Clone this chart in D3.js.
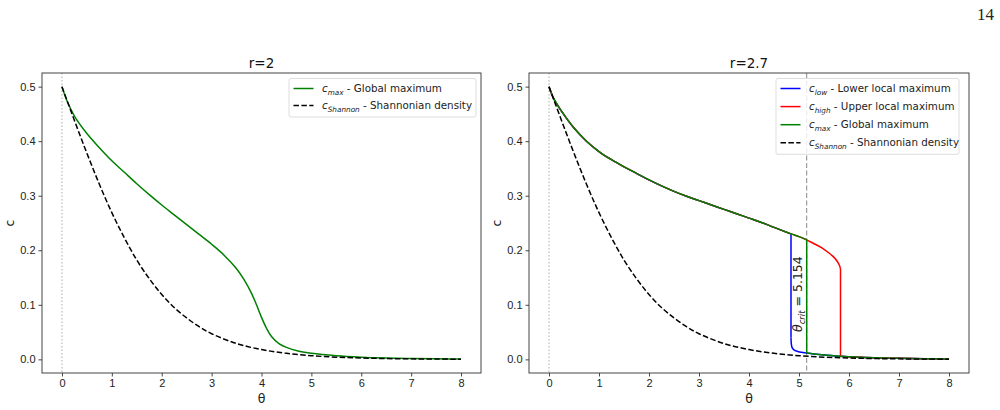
<!DOCTYPE html>
<html>
<head>
<meta charset="utf-8">
<script src="https://cdn.jsdelivr.net/npm/d3@7"></script>
<style>
  body { margin: 0; background: #fff; }
  svg { font-family: "DejaVu Sans", sans-serif; }
  .axis text { font-size: 11px; fill: #222; }
  .axis path, .axis line { stroke: #333; stroke-width: 0.9; }
  .title { font-size: 13.5px; fill: #111; text-anchor: middle; }
  .label { font-size: 12.5px; fill: #222; text-anchor: middle; }
  .legend text { font-size: 10.3px; fill: #222; }
</style>
</head>
<body>
<div id="chart"></div>
<script>

// shannonian density (same in both panels)
var thetaShannon = [0, 0.25, 0.5, 0.75, 1, 1.25, 1.5, 1.75, 2, 2.25, 2.5, 2.75, 3, 3.5, 4, 4.5, 5, 5.5, 6, 6.5, 7, 7.5, 8];
var cShannon = [0.5, 0.438, 0.378, 0.321, 0.269, 0.223, 0.182, 0.148, 0.119, 0.095, 0.076, 0.060, 0.047, 0.029, 0.018, 0.011, 0.0067, 0.0041, 0.0025, 0.0015, 0.0009, 0.0006, 0.0003];

// r=2, global maximum
var thetaMax2 = [0, 0.1, 0.25, 0.5, 0.75, 1, 1.25, 1.5, 1.75, 2, 2.25, 2.5, 2.75, 3, 3.25, 3.5, 3.65, 3.8, 3.9, 4, 4.1, 4.2, 4.35, 4.5, 4.75, 5, 5.5, 6, 6.5, 7, 7.5, 8];
var cMax2 = [0.5, 0.474, 0.446, 0.414, 0.388, 0.364, 0.343, 0.322, 0.302, 0.283, 0.265, 0.247, 0.229, 0.211, 0.191, 0.166, 0.146, 0.121, 0.100, 0.077, 0.057, 0.042, 0.029, 0.022, 0.015, 0.011, 0.0065, 0.0040, 0.0025, 0.0015, 0.0010, 0.0006];

// r=2.7, upper and lower branches of the local maxima
var thetaUpper = [0, 0.1, 0.25, 0.5, 0.75, 1, 1.25, 1.5, 1.75, 2, 2.25, 2.5, 2.75, 3, 3.25, 3.5, 3.75, 4, 4.25, 4.5, 4.84, 5, 5.154, 5.3, 5.45, 5.6, 5.7, 5.77, 5.81, 5.83];
var cUpper = [0.5, 0.477, 0.455, 0.424, 0.400, 0.381, 0.366, 0.353, 0.341, 0.329, 0.318, 0.308, 0.299, 0.291, 0.283, 0.275, 0.267, 0.259, 0.251, 0.242, 0.230, 0.225, 0.219, 0.212, 0.205, 0.195, 0.187, 0.179, 0.172, 0.166];
var thetaLower = [4.84, 4.845, 4.86, 4.9, 4.96, 5.05, 5.154, 5.3, 5.5, 5.83, 6, 6.5, 7, 7.5, 8];
var cLower = [0.040, 0.030, 0.022, 0.0175, 0.0148, 0.013, 0.0117, 0.0098, 0.0078, 0.0056, 0.0048, 0.0031, 0.0020, 0.0013, 0.0008];

var thetaJumpLow = 4.84;
var thetaCrit = 5.154;
var thetaJumpHigh = 5.83;

var xTicks = [0, 1, 2, 3, 4, 5, 6, 7, 8];
var yTicks = [0, 0.1, 0.2, 0.3, 0.4, 0.5];

function pts(th, c) {
    return th.map(function(t, i) { return [t, c[i]]; });
}

// upper branch up to a jump, then lower branch from it
// returned as separate pieces so the vertical drop stays straight
function branch(jump) {
    var up = pts(thetaUpper, cUpper).filter(function(d) { return d[0] <= jump; });
    var low = pts(thetaLower, cLower).filter(function(d) { return d[0] >= jump; });
    return [up, [up[up.length - 1], low[0]], low];
}

var svg = d3.select("#chart").append("svg")
    .attr("width", 1000)
    .attr("height", 410);

// page number
svg.append("text")
    .attr("x", 994)
    .attr("y", 20)
    .attr("text-anchor", "end")
    .style("font-family", "'Liberation Serif', 'DejaVu Serif', serif")
    .style("font-size", "17px")
    .style("fill", "#222")
    .text("14");

function legendLabel(text, sub, rest) {
    text.append("tspan").style("font-style", "italic").text("c");
    text.append("tspan").style("font-style", "italic").style("font-size", "7.3px")
        .attr("dy", "2.5").text(sub);
    text.append("tspan").attr("dy", "-2.5").text(" - " + rest);
}

function drawPanel(p) {
    var x = d3.scaleLinear().domain([-0.4, 8.4]).range([p.left, p.right]);
    var y = d3.scaleLinear().domain([-0.025, 0.525]).range([373, 73]);

    var g = svg.append("g");

    // dotted line at theta = 0
    g.append("line")
        .attr("x1", x(0)).attr("x2", x(0))
        .attr("y1", 73).attr("y2", 373)
        .attr("stroke", "#bbb")
        .attr("stroke-width", 1.2)
        .attr("stroke-dasharray", "1.5,2");

    if (p.crit) {
        g.append("line")
            .attr("x1", x(p.crit)).attr("x2", x(p.crit))
            .attr("y1", 73).attr("y2", 373)
            .attr("stroke", "#888")
            .attr("stroke-width", 1)
            .attr("stroke-dasharray", "5,2.5");
    }

    var line = d3.line()
        .curve(d3.curveCatmullRom.alpha(0.5))
        .x(function(d) { return x(d[0]); })
        .y(function(d) { return y(d[1]); });

    p.series.forEach(function(s) {
        var sg = g.append("g");
        s.pieces.forEach(function(piece) {
            sg.append("path")
                .datum(piece)
                .attr("fill", "none")
                .attr("stroke", s.color)
                .attr("stroke-width", 1.5)
                .attr("stroke-dasharray", s.dash || null)
                .attr("d", line);
        });
    });

    if (p.crit) {
        var tx = x(p.crit) - 5, ty = 332;
        var t = g.append("text")
            .attr("transform", "translate(" + tx + "," + ty + ") rotate(-90)")
            .style("font-size", "12.5px")
            .style("fill", "#222");
        t.append("tspan").style("font-style", "italic").text("θ");
        t.append("tspan").style("font-style", "italic").style("font-size", "8.5px")
            .attr("dy", "3").text("crit");
        t.append("tspan").attr("dy", "-3").text(" = " + p.crit);
    }

    // frame
    g.append("rect")
        .attr("x", p.left).attr("y", 73)
        .attr("width", p.right - p.left).attr("height", 300)
        .attr("fill", "none")
        .attr("stroke", "#444")
        .attr("stroke-width", 1);

    g.append("g")
        .attr("class", "axis")
        .attr("transform", "translate(0,373)")
        .call(d3.axisBottom(x).tickValues(xTicks).tickFormat(d3.format("d")).tickSize(3.5).tickSizeOuter(0).tickPadding(3))
        .select(".domain").remove();

    g.append("g")
        .attr("class", "axis")
        .attr("transform", "translate(" + p.left + ",0)")
        .call(d3.axisLeft(y).tickValues(yTicks).tickFormat(d3.format(".1f")).tickSize(3.5).tickSizeOuter(0).tickPadding(3))
        .select(".domain").remove();

    g.append("text")
        .attr("class", "title")
        .attr("x", (p.left + p.right) / 2)
        .attr("y", 68)
        .text(p.title);

    g.append("text")
        .attr("class", "label")
        .attr("x", (p.left + p.right) / 2)
        .attr("y", 403)
        .text("θ");

    g.append("text")
        .attr("class", "label")
        .attr("transform", "translate(" + (p.left - 28) + ",223) rotate(-90)")
        .text("c");

    // legend
    var lg = g.append("g").attr("class", "legend");
    var n = p.legend.length;
    lg.append("rect")
        .attr("x", p.legX).attr("y", 78.5)
        .attr("width", p.legW).attr("height", 21 + (n - 1) * p.legStep + 0.5)
        .attr("rx", 2)
        .attr("fill", "#fff")
        .attr("fill-opacity", 0.8)
        .attr("stroke", "#ddd");

    p.legend.forEach(function(d, i) {
        var yy = 88.5 + i * p.legStep;
        lg.append("line")
            .attr("x1", p.legX + 4.5).attr("x2", p.legX + 24.5)
            .attr("y1", yy).attr("y2", yy)
            .attr("stroke", d.color)
            .attr("stroke-width", 1.5)
            .attr("stroke-dasharray", d.dash || null);
        var t = lg.append("text")
            .attr("x", p.legX + 33)
            .attr("y", yy + 3.5);
        legendLabel(t, d.sub, d.text);
    });
}

var shannonSeries = { pieces: [pts(thetaShannon, cShannon)], color: "#000", dash: "5.5,2.4" };

drawPanel({
    left: 42, right: 481, title: "r=2",
    series: [
        { pieces: [pts(thetaMax2, cMax2)], color: "#008000" },
        shannonSeries
    ],
    legX: 289, legW: 187, legStep: 17,
    legend: [
        { color: "#008000", sub: "max", text: "Global maximum" },
        { color: "#000", dash: "5.5,2.4", sub: "Shannon", text: "Shannonian density" }
    ]
});

drawPanel({
    left: 529, right: 969, title: "r=2.7", crit: thetaCrit,
    series: [
        { pieces: branch(thetaJumpLow), color: "#0000ff" },
        { pieces: branch(thetaJumpHigh), color: "#ff0000" },
        { pieces: branch(thetaCrit), color: "#008000" },
        shannonSeries
    ],
    legX: 776, legW: 183, legStep: 18.1,
    legend: [
        { color: "#0000ff", sub: "low", text: "Lower local maximum" },
        { color: "#ff0000", sub: "high", text: "Upper local maximum" },
        { color: "#008000", sub: "max", text: "Global maximum" },
        { color: "#000", dash: "5.5,2.4", sub: "Shannon", text: "Shannonian density" }
    ]
});

</script>
</body>
</html>
